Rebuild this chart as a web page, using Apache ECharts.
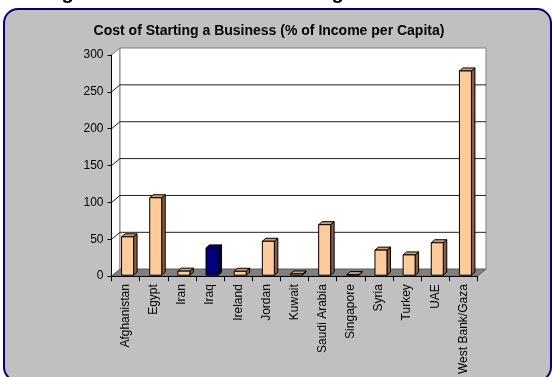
<!DOCTYPE html>
<html><head><meta charset="utf-8">
<script src="https://cdn.jsdelivr.net/npm/echarts@6/dist/echarts.min.js"></script>
<style>html,body{margin:0;padding:0;background:#fff}#c{width:552px;height:377px}</style>
</head><body><div id="c"></div>
<script>
var categories = ['Afghanistan','Egypt','Iran','Iraq','Ireland','Jordan','Kuwait','Saudi Arabia','Singapore','Syria','Turkey','UAE','West Bank/Gaza'];
var costValues = [52, 105, 5.5, 37, 5.3, 46, 1.7, 68.5, 0.8, 34, 27.5, 44, 277];
var highlight = 'Iraq';
var yTicks = [0, 50, 100, 150, 200, 250, 300];
var chartTitle = 'Cost of Starting a Business (% of Income per Capita)';

var DX = 8.5, DY = -7;
var FONT = 'Arial, "Liberation Sans", sans-serif';
var chart = echarts.init(document.getElementById('c'), null, {renderer:'canvas'});

function wallsRender(params, api) {
  var n = categories.length;
  var ymax = yTicks[yTicks.length-1];
  var fl = api.coord([0, 0]), fr = api.coord([n, 0]);
  var tl = api.coord([0, ymax]);
  var kids = [];
  kids.push({type:'polygon', shape:{points:[[fl[0],fl[1]],[tl[0],tl[1]],[tl[0]+DX,tl[1]+DY],[fl[0]+DX,fl[1]+DY]]}, style:{fill:'#ffffff', stroke:'#808080', lineWidth:1}});
  kids.push({type:'rect', shape:{x:tl[0]+DX, y:tl[1]+DY, width:fr[0]-fl[0], height:fl[1]-tl[1]}, style:{fill:'#ffffff', stroke:'#808080', lineWidth:1}});
  for (var k = 1; k < yTicks.length - 1; k++) {
    var p = api.coord([0, yTicks[k]]);
    kids.push({type:'polyline', shape:{points:[[p[0],p[1]],[p[0]+DX,p[1]+DY],[fr[0]+DX,p[1]+DY]]}, style:{fill:null, stroke:'#202020', lineWidth:1}});
  }
  kids.push({type:'polygon', shape:{points:[[fl[0],fl[1]],[fr[0],fr[1]],[fr[0]+DX,fr[1]+DY],[fl[0]+DX,fl[1]+DY]]}, style:{fill:'#808080', stroke:'#606060', lineWidth:1}});
  return {type:'group', children:kids};
}

function barRender(params, api) {
  var x = api.value(0), v = api.value(1), hi = api.value(2);
  var c0 = api.coord([x, 0]), c1 = api.coord([x, v]);
  var cx = c0[0] + 2, base = c0[1] - 1, top = c1[1] - 1;
  var hw = 6, ddx = 3.5, ddy = -3;
  var front = hi ? '#000080' : '#FFCC99';
  var side = hi ? '#00004a' : '#806040';
  var topc = hi ? '#000066' : '#C8A078';
  var st = {stroke:'#000000', lineWidth:1, lineJoin:'round'};
  return {type:'group', children:[
    {type:'polygon', shape:{points:[[cx+hw,base],[cx+hw,top],[cx+hw+ddx,top+ddy],[cx+hw+ddx,base+ddy]]}, style:Object.assign({fill:side}, st)},
    {type:'polygon', shape:{points:[[cx-hw,top],[cx+hw,top],[cx+hw+ddx,top+ddy],[cx-hw+ddx,top+ddy]]}, style:Object.assign({fill:topc}, st)},
    {type:'rect', shape:{x:cx-hw, y:top, width:2*hw, height:base-top}, style:Object.assign({fill:front}, st)}
  ]};
}

var barData = costValues.map(function(v, i){ return [i + 0.5, v, categories[i] === highlight ? 1 : 0]; });

chart.setOption({
  animation:false,
  backgroundColor:'#ffffff',
  graphic:[
    {type:'text', left:17, top:-17, z:0, style:{text:'Doing Business in MENA: Starting a Business', font:'bold 20px '+FONT, fill:'#000'}},
    {type:'rect', shape:{x:4, y:9, width:547, height:372, r:14}, z:1, style:{fill:'#C0C0C0', stroke:'#000080', lineWidth:2}},
    {type:'text', x:269, y:31, z:2, style:{text:chartTitle, font:'bold 14px '+FONT, fill:'#000', align:'center', verticalAlign:'middle'}}
  ],
  grid:{left:111.5, top:55, width:366, height:222, containLabel:false},
  xAxis:[
    {type:'category', data:categories, boundaryGap:true, z:5,
     axisLine:{show:true, lineStyle:{color:'#000', width:1}},
     axisTick:{show:true, alignWithLabel:false, length:5, lineStyle:{color:'#000'}},
     axisLabel:{rotate:90, margin:8, fontSize:12, fontFamily:FONT, color:'#000', interval:0}},
    {type:'value', min:0, max:categories.length, show:false}
  ],
  yAxis:{type:'value', min:0, max:300, interval:50, z:5,
     axisLine:{show:true, lineStyle:{color:'#000', width:1}},
     axisTick:{show:true, length:4, lineStyle:{color:'#000'}},
     axisLabel:{margin:8, fontSize:12, fontFamily:FONT, color:'#000'},
     splitLine:{show:false}},
  series:[
    {type:'custom', xAxisIndex:1, data:[[0,0]], renderItem:wallsRender, z:2, silent:true},
    {type:'custom', xAxisIndex:1, data:barData, renderItem:barRender, z:3, silent:true}
  ]
});
</script></body></html>
